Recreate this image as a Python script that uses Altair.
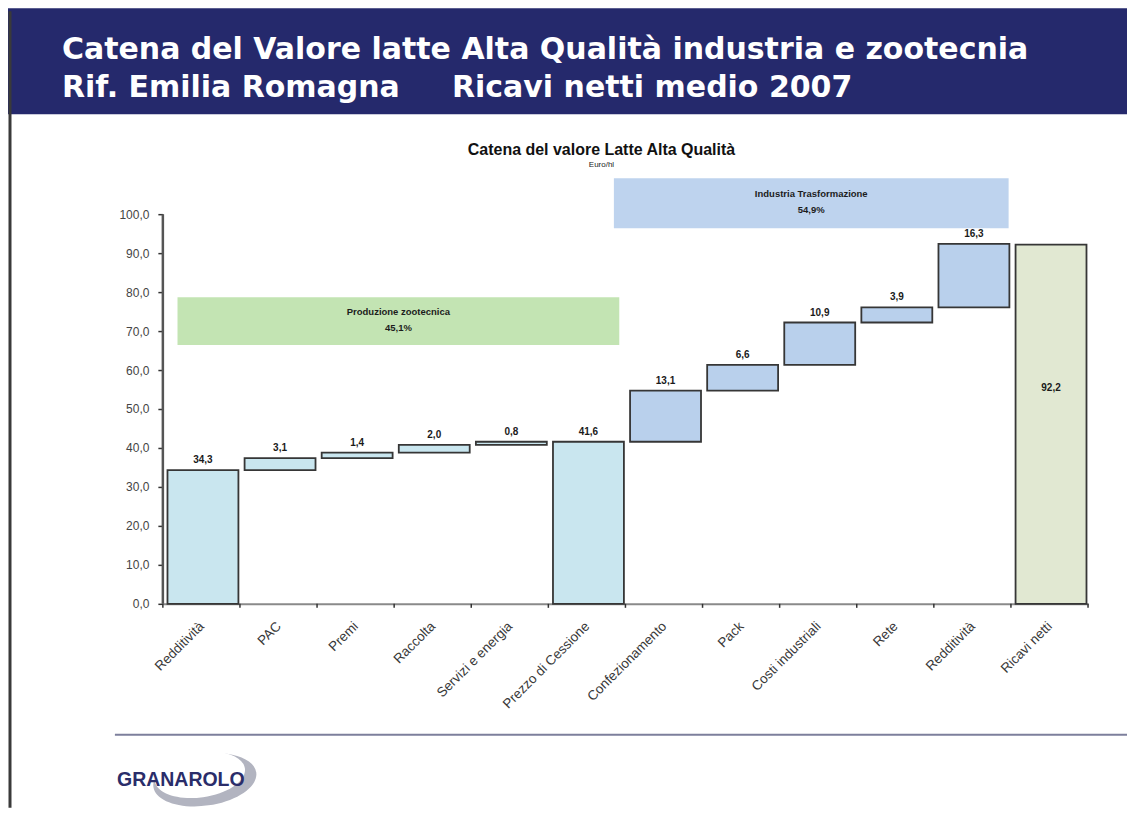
import json
import altair as alt
import pandas as pd

# ---------------- data ----------------
categories = ["Redditività", "PAC", "Premi", "Raccolta", "Servizi e energia",
              "Prezzo di Cessione", "Confezionamento", "Pack", "Costi industriali",
              "Rete", "Redditività", "Ricavi netti"]
values = [34.3, 3.1, 1.4, 2.0, 0.8, 41.6, 13.1, 6.6, 10.9, 3.9, 16.3, 92.2]
kinds = ["start", "step", "step", "step", "step", "total",
         "step", "step", "step", "step", "step", "total"]
groups = ["zoo", "zoo", "zoo", "zoo", "zoo", "zoo",
          "ind", "ind", "ind", "ind", "ind", "tot"]

phase_names = ["Produzione zootecnica", "Industria Trasformazione"]
phase_share = ["45,1%", "54,9%"]
phase_from = [0.19, 5.85]
phase_to = [5.92, 10.97]
phase_low = [66.4, 96.4]
phase_high = [78.7, 109.2]

y_ticks = [0, 10, 20, 30, 40, 50, 60, 70, 80, 90, 100]

header_line1 = "Catena del Valore latte Alta Qualità industria e zootecnia"
header_line2 = "Rif. Emilia Romagna" + "\u00a0" * 5 + "Ricavi netti medio 2007"
chart_title = "Catena del valore Latte Alta Qualità"
chart_subtitle = "Euro/hl"
brand = "GRANAROLO"

# ---------------- tables ----------------
rows = []
running = 0.0
for i, (c, v, k, g) in enumerate(zip(categories, values, kinds, groups)):
    if k == "step":
        lo, hi = running, running + v
        running = hi
    else:
        lo, hi = 0.0, v
        running = v
    rows.append(dict(i=i, cat=c, v=v, lo=lo, hi=hi, group=g,
                     inside=(i == len(categories) - 1)))
bars_df = pd.DataFrame(rows)

phase_df = pd.DataFrame(dict(name=phase_names, share=phase_share,
                             x0=phase_from, x1=phase_to, y0=phase_low, y1=phase_high))
bound_df = pd.DataFrame(dict(b=list(range(len(categories) + 1))))
axis_df = pd.DataFrame(dict(lo=[y_ticks[0]], hi=[y_ticks[-1]]))

W, H = 926, 390
FONT = "Liberation Sans"

xscale = alt.Scale(domain=[0, len(categories)], nice=False, zero=False)
yscale = alt.Scale(domain=[y_ticks[0], y_ticks[-1]], nice=False, zero=True)

cat_js = json.dumps(categories, ensure_ascii=False)
xaxis = alt.Axis(values=[i + 0.5 for i in range(len(categories))],
                 labelExpr=f"{cat_js}[floor(datum.value)]",
                 title=None, ticks=False, tickSize=0, grid=False,
                 labelAngle=315, labelAlign="right", labelBaseline="middle",
                 labelPadding=20, labelFont=FONT, labelFontSize=13.5,
                 labelColor="#383838", domainColor="#8a8a8a", domainWidth=2,
                 labelOverlap=False)
yaxis = alt.Axis(values=y_ticks, tickCount=len(y_ticks), title=None, grid=False,
                 domain=False, labelOverlap=False,
                 labelExpr="replace(format(datum.value, '.1f'), '.', ',')",
                 tickSize=5, tickColor="#333333", tickWidth=1.5,
                 labelFont=FONT, labelFontSize=12, labelColor="#444444",
                 labelPadding=9)


def X(field):
    return alt.X(field, scale=xscale, axis=xaxis)


def Y(field):
    return alt.Y(field, scale=yscale, axis=yaxis)


base = alt.Chart(bars_df).transform_calculate(
    xl="datum.i + 0.06", xr="datum.i + 0.98", xc="datum.i + 0.52",
    label="replace(format(datum.v, '.1f'), '.', ',')",
    mid="datum.v * 0.6",
)

bars = base.mark_rect(stroke="#363636", strokeWidth=1.8).encode(
    x=X("xl:Q"), x2="xr:Q",
    y=Y("lo:Q"), y2="hi:Q",
    color=alt.Color("group:N", legend=None,
                    scale=alt.Scale(domain=["zoo", "ind", "tot"],
                                    range=["#c9e6ef", "#b9d0ec", "#e1e8d2"])),
)

labels_top = base.transform_filter("!datum.inside").mark_text(
    font=FONT, fontSize=10, fontWeight="bold", color="#1a1a1a",
    baseline="bottom", dy=-5).encode(
    x=X("xc:Q"), y=Y("hi:Q"), text="label:N")

labels_in = base.transform_filter("datum.inside").mark_text(
    font=FONT, fontSize=10, fontWeight="bold", color="#1a1a1a",
    baseline="middle").encode(
    x=X("xc:Q"), y=Y("mid:Q"), text="label:N")

y_domain = alt.Chart(axis_df).mark_rule(color="#555555", strokeWidth=2.5).encode(
    x=alt.value(0), y=Y("lo:Q"), y2="hi:Q")

x_ticks = alt.Chart(bound_df).mark_rule(color="#333333", strokeWidth=1.5).encode(
    x=X("b:Q"), y=alt.value(H), y2=alt.value(H + 4))

phase_rect = alt.Chart(phase_df).mark_rect().encode(
    x=X("x0:Q"), x2="x1:Q",
    y=Y("y0:Q"), y2="y1:Q",
    fill=alt.Fill("name:N", legend=None,
                  scale=alt.Scale(domain=phase_names, range=["#c3e4b3", "#bed3ee"])),
)
phase_text = alt.Chart(phase_df).transform_calculate(
    xm="(datum.x0 + datum.x1) / 2", ym="(datum.y0 + datum.y1) / 2",
    txt="datum.name + '\\n' + datum.share",
).mark_text(font=FONT, fontSize=9.5, fontWeight="bold", color="#1c1c1c",
            lineBreak="\n", baseline="middle", lineHeight=16, dy=-9).encode(
    x=X("xm:Q"), y=Y("ym:Q"), text="txt:N")

one = pd.DataFrame(dict(k=[1]))
header = alt.Chart(one).mark_rect(color="#25296c").encode(
    x=alt.value(-155), x2=alt.value(965), y=alt.value(-206), y2=alt.value(-100))
left_border = alt.Chart(one).mark_rule(color="#3a3a3a", strokeWidth=3).encode(
    x=alt.value(-153), y=alt.value(-203), y2=alt.value(594))
head1 = alt.Chart(one).mark_text(
    text=header_line1, font="DejaVu Sans", fontSize=30, fontWeight="bold",
    color="white", align="left", baseline="alphabetic").encode(
    x=alt.value(-101), y=alt.value(-155))
head2 = alt.Chart(one).mark_text(
    text=header_line2, font="DejaVu Sans", fontSize=30, fontWeight="bold",
    color="white", align="left", baseline="alphabetic").encode(
    x=alt.value(-101), y=alt.value(-117))
title1 = alt.Chart(one).mark_text(
    text=chart_title, font=FONT, fontSize=16, fontWeight="bold",
    color="#111111", align="center", baseline="middle").encode(
    x=alt.value(439), y=alt.value(-64))
title2 = alt.Chart(one).mark_text(
    text=chart_subtitle, font=FONT, fontSize=8, color="#222222",
    align="center", baseline="middle").encode(
    x=alt.value(439), y=alt.value(-49))

footer_rule = alt.Chart(one).mark_rule(color="#7d7f9c", strokeWidth=2).encode(
    x=alt.value(-48), x2=alt.value(965), y=alt.value(521))
ELLIPSE = "M-1,0A1,0.5,0,1,1,1,0A1,0.5,0,1,1,-1,0Z"
swoosh = alt.Chart(one).mark_point(
    shape=ELLIPSE, size=10800, filled=True, color="#b2b4c0", opacity=1,
    angle=352).encode(x=alt.value(42), y=alt.value(566))
swoosh_cut = alt.Chart(one).mark_point(
    shape=ELLIPSE, size=8300, filled=True, color="#ffffff", opacity=1,
    angle=352).encode(x=alt.value(37), y=alt.value(561))
logo = alt.Chart(one).mark_text(
    text=brand, font=FONT, fontSize=19.5, fontWeight="bold",
    color="#2a2d6a", align="center", baseline="middle").encode(
    x=alt.value(18), y=alt.value(566))

chart = alt.layer(
    header, left_border, head1, head2, title1, title2,
    phase_rect, phase_text,
    bars, labels_top, labels_in, y_domain, x_ticks,
    footer_rule, swoosh, swoosh_cut, logo,
).resolve_scale(color="independent", fill="independent").properties(
    width=W, height=H, padding=0, background="white"
).configure_view(strokeWidth=0)

chart.save("out.html", embed_options={"renderer": "svg", "actions": False})
